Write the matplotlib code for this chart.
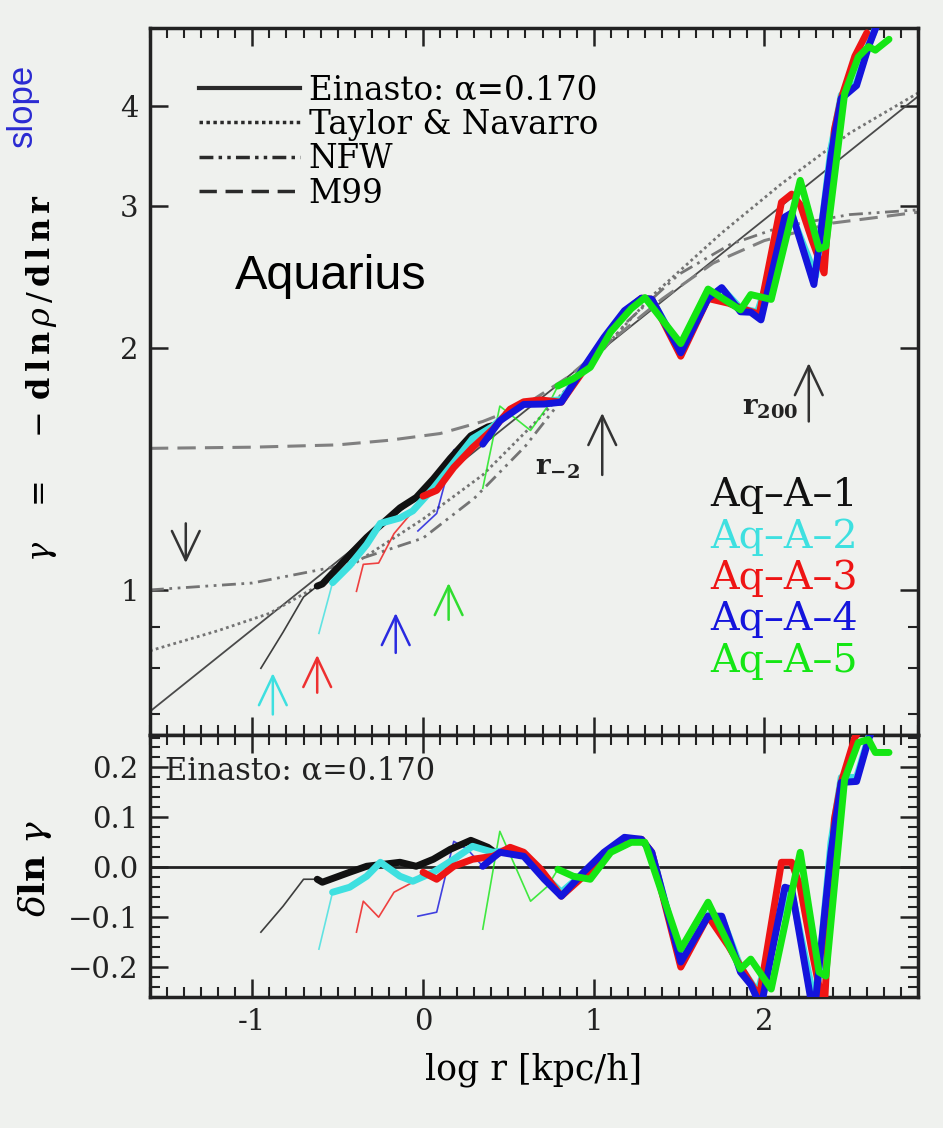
import numpy as np
import matplotlib
matplotlib.use("Agg")
import matplotlib.pyplot as plt
from matplotlib.lines import Line2D
from matplotlib.ticker import FixedLocator, NullFormatter, MultipleLocator

plt.rcParams['font.family'] = ['DejaVu Serif']
plt.rcParams['mathtext.fontset'] = 'dejavuserif'

# ---- model curves (log r, slope) ----
ein_r = [-1.6, -1.0, 0.0, 1.0, 2.0, 2.9]
ein_g = [0.706, 0.893, 1.321, 1.954, 2.889, 4.11]
tn_r = [-1.6, -1.2, -0.9, -0.5, 0.0, 0.35, 0.7, 1.06, 1.35, 1.75, 2.1, 2.5, 2.9]
tn_g = [0.84, 0.89, 0.935, 1.045, 1.225, 1.39, 1.65, 2.0, 2.33, 2.78, 3.2, 3.7, 4.15]
nfw_r = [-1.6, -1.0, -0.5, 0.0, 0.3, 0.6, 0.9, 1.2, 1.5, 1.8, 2.1, 2.5, 2.9]
nfw_g = [1.00, 1.02, 1.07, 1.16, 1.30, 1.51, 1.82, 2.16, 2.47, 2.69, 2.83, 2.93, 2.97]
m99_r = [-1.6, -1.0, -0.5, -0.2, 0.1, 0.35, 0.6, 0.85, 1.1, 1.4, 1.7, 2.0, 2.4, 2.9]
m99_g = [1.50, 1.505, 1.515, 1.535, 1.565, 1.62, 1.70, 1.84, 2.04, 2.30, 2.55, 2.72, 2.86, 2.95]

# ---- simulations: log r, slope, residual vs Einasto, convergence radius ----
aq1_r = [-0.95, -0.82, -0.70, -0.62, -0.59, -0.43, -0.33, -0.135, -0.04, 0.06, 0.16, 0.28, 0.38, 0.42]
aq1_g = [0.799, 0.886, 0.980, 1.011, 1.017, 1.105, 1.162, 1.265, 1.303, 1.374, 1.458, 1.555, 1.595, 1.603]
aq1_d = [-0.13, -0.078, -0.024, -0.024, -0.03, -0.01, 0.002, 0.01, 0.002, 0.016, 0.036, 0.054, 0.04, 0.03]
aq1_conv = -0.62

aq2_r = [-0.61, -0.53, -0.43, -0.33, -0.25, -0.135, -0.06, 0.06, 0.18, 0.29, 0.41, 0.51, 0.59, 0.69,
         0.81, 0.94, 1.06, 1.18, 1.28, 1.34, 1.51, 1.67, 1.75, 1.86, 1.96, 2.12, 2.16, 2.30, 2.39,
         2.45, 2.54, 2.61, 2.66]
aq2_g = [0.883, 1.021, 1.072, 1.139, 1.210, 1.229, 1.254, 1.338, 1.440, 1.542, 1.598, 1.670, 1.706,
         1.713, 1.725, 1.885, 2.050, 2.215, 2.304, 2.299, 1.982, 2.309, 2.372, 2.240, 2.216, 2.852,
         2.925, 2.457, 3.538, 4.125, 4.273, 4.759, 5.05]
aq2_d = [-0.164, -0.05, -0.04, -0.018, 0.01, -0.018, -0.028, -0.01, 0.016, 0.042, 0.03, 0.035, 0.025,
         -0.01, -0.05, -0.012, 0.025, 0.055, 0.055, 0.03, -0.185, -0.095, -0.10, -0.20, -0.25, -0.06,
         -0.05, -0.28, 0.05, 0.18, 0.18, 0.26, 0.30]
aq2_conv = -0.53

aq3_r = [-0.39, -0.35, -0.26, -0.17, -0.06, 0.0, 0.08, 0.18, 0.29, 0.41, 0.51, 0.59, 0.69, 0.81,
         0.94, 1.04, 1.18, 1.28, 1.34, 1.51, 1.67, 1.79, 1.88, 1.97, 2.10, 2.16, 2.21, 2.28, 2.35,
         2.41, 2.45, 2.53, 2.60]
aq3_g = [0.996, 1.076, 1.080, 1.175, 1.252, 1.308, 1.330, 1.420, 1.503, 1.585, 1.678, 1.714, 1.723,
         1.712, 1.874, 2.016, 2.217, 2.306, 2.299, 1.953, 2.304, 2.273, 2.235, 2.202, 3.035, 3.107,
         3.014, 2.720, 2.479, 3.735, 4.085, 4.612, 4.93]
aq3_d = [-0.13, -0.068, -0.10, -0.05, -0.03, -0.01, -0.024, 0.002, 0.016, 0.022, 0.04, 0.03, -0.004,
         -0.058, -0.018, 0.016, 0.056, 0.056, 0.03, -0.20, -0.098, -0.158, -0.21, -0.26, 0.01, 0.01,
         -0.04, -0.17, -0.29, 0.096, 0.17, 0.26, 0.30]
aq3_conv = 0.0

aq4_r = [-0.03, 0.08, 0.18, 0.26, 0.35, 0.45, 0.59, 0.71, 0.81, 0.94, 1.06, 1.18, 1.28, 1.34,
         1.51, 1.67, 1.75, 1.86, 1.92, 1.98, 2.12, 2.16, 2.29, 2.39, 2.45, 2.54, 2.61, 2.66]
aq4_g = [1.184, 1.245, 1.493, 1.516, 1.518, 1.623, 1.701, 1.703, 1.712, 1.889, 2.061, 2.225, 2.306,
         2.299, 1.972, 2.304, 2.377, 2.218, 2.215, 2.167, 2.910, 2.944, 2.398, 3.468, 4.085, 4.240,
         4.740, 5.05]
aq4_d = [-0.098, -0.09, 0.052, 0.036, 0.002, 0.03, 0.022, -0.024, -0.058, -0.01, 0.03, 0.06, 0.056,
         0.03, -0.19, -0.098, -0.098, -0.21, -0.235, -0.28, -0.04, -0.044, -0.30, 0.03, 0.17, 0.172,
         0.256, 0.30]
aq4_conv = 0.35

aq5_r = [0.35, 0.45, 0.63, 0.73, 0.79, 0.88, 0.98, 1.10, 1.22, 1.30, 1.51, 1.67, 1.86, 1.92, 2.04,
         2.21, 2.32, 2.36, 2.47, 2.55, 2.61, 2.65, 2.73]
aq5_g = [1.338, 1.693, 1.579, 1.692, 1.793, 1.831, 1.892, 2.094, 2.238, 2.310, 2.025, 2.367, 2.230,
         2.330, 2.298, 3.232, 2.655, 2.675, 4.141, 4.602, 4.740, 4.692, 4.841]
aq5_d = [-0.124, 0.072, -0.068, -0.038, -0.004, -0.018, -0.024, 0.03, 0.05, 0.05, -0.164, -0.07,
         -0.204, -0.184, -0.244, 0.03, -0.21, -0.218, 0.176, 0.25, 0.256, 0.23, 0.23]
aq5_conv = 0.79

sim_names = ['Aq\u2013A\u20131', 'Aq\u2013A\u20132', 'Aq\u2013A\u20133', 'Aq\u2013A\u20134', 'Aq\u2013A\u20135']
sim_colors = ['#111111', '#3ee0e0', '#ee1414', '#1414dc', '#14e614']

# arrows: log r, tail, tip (in slope units)
arrow_x = [-1.39, -0.88, -0.62, -0.16, 0.15]
arrow_tail = [1.21, 0.70, 0.745, 0.835, 0.918]
arrow_tip = [1.08, 0.788, 0.83, 0.936, 1.02]
arrow_colors = ['#333333', '#3ee0e0', '#ee3030', '#2a2ae0', '#30dd30']
rm2_x, rm2_tail, rm2_tip = 1.05, 1.39, 1.66
r200_x, r200_tail, r200_tip = 2.26, 1.62, 1.915

bg = '#eff1ee'
fig = plt.figure(figsize=(9.43, 11.28), dpi=100, facecolor=bg)
ax1 = fig.add_axes([0.159, 0.3484, 0.8145, 0.6268], facecolor=bg)
ax2 = fig.add_axes([0.159, 0.1161, 0.8145, 0.2323], facecolor=bg)

# model curves
ax1.plot(ein_r, ein_g, color='#4a4a4a', lw=1.3, ls='-')
ax1.plot(tn_r, tn_g, color='#747474', lw=2.0, ls=(0, (1, 1.2)))
ax1.plot(nfw_r, nfw_g, color='#747474', lw=2.0, ls=(0, (5, 2, 1, 2, 1, 2)))
ax1.plot(m99_r, m99_g, color='#808080', lw=2.2, ls=(0, (6, 3)))

sims = [(aq1_r, aq1_g, aq1_d, aq1_conv), (aq2_r, aq2_g, aq2_d, aq2_conv),
        (aq3_r, aq3_g, aq3_d, aq3_conv), (aq4_r, aq4_g, aq4_d, aq4_conv),
        (aq5_r, aq5_g, aq5_d, aq5_conv)]

for (r, g, d, conv), col in zip(sims, sim_colors):
    r = np.array(r)
    g = np.array(g)
    d = np.array(d)
    thin = r <= conv
    thick = r >= conv
    for ax, y in ((ax1, g), (ax2, d)):
        ax.plot(r[thin], y[thin], color=col, lw=1.2, alpha=0.8, zorder=3)
        ax.plot(r[thick], y[thick], color=col, lw=5.0, solid_joinstyle='round',
                solid_capstyle='round', zorder=4)

# arrows
aprops = dict(arrowstyle='->,head_length=0.42,head_width=0.2', lw=1.8,
              shrinkA=0, shrinkB=0, mutation_scale=50)
for x, t0, t1, c in zip(arrow_x, arrow_tail, arrow_tip, arrow_colors):
    ax1.annotate('', xy=(x, t1), xytext=(x, t0), arrowprops=dict(aprops, color=c), zorder=5)
ax1.annotate('', xy=(rm2_x, rm2_tip), xytext=(rm2_x, rm2_tail),
             arrowprops=dict(aprops, color='#333333'))
ax1.annotate('', xy=(r200_x, r200_tip), xytext=(r200_x, r200_tail),
             arrowprops=dict(aprops, color='#333333'))
ax1.text(0.79, 1.42, r'$\mathbf{r}_{\mathbf{-2}}$', fontsize=20, ha='center', va='center', color='#222222')
ax1.text(2.035, 1.685, r'$\mathbf{r}_{\mathbf{200}}$', fontsize=20, ha='center', va='center', color='#222222')

# legend of model curves
handles = [Line2D([], [], color='#2a2a2a', lw=3.0, ls='-'),
           Line2D([], [], color='#2a2a2a', lw=2.5, ls=(0, (1, 1))),
           Line2D([], [], color='#2a2a2a', lw=2.5, ls=(0, (4, 1.5, 1, 1.5, 1, 1.5))),
           Line2D([], [], color='#2a2a2a', lw=2.5, ls=(0, (5, 2.5)))]
labels = ['Einasto: \u03b1=0.170', 'Taylor & Navarro', 'NFW', 'M99']
ax1.legend(handles, labels, loc='upper left', bbox_to_anchor=(0.043, 0.958), frameon=False,
           fontsize=23.5, handlelength=3.1, handletextpad=0.25, labelspacing=0.08, borderpad=0)

# simulation names
name_y = [0.339, 0.280, 0.222, 0.163, 0.104]
for name, col, y in zip(sim_names, sim_colors, name_y):
    ax1.text(0.729, y, name, color=col, fontsize=28.5, ha='left', va='center', transform=ax1.transAxes)

ax1.text(0.235, 0.648, 'Aquarius', fontsize=35, family='Liberation Sans', ha='center', va='center',
         transform=ax1.transAxes)
fig.text(0.024, 0.907, 'slope', fontsize=25, family='Liberation Sans', color='#2a2ad2',
         rotation=90, ha='center', va='center')

ax2.axhline(0.0, color='#222222', lw=2.0, zorder=2)
ax2.text(0.02, 0.862, 'Einasto: \u03b1=0.170', fontsize=22, ha='left', va='center',
         transform=ax2.transAxes, color='#222222')

# axes
ax1.set_yscale('log')
for ax in (ax1, ax2):
    ax.set_xlim(-1.6, 2.9)
    ax.xaxis.set_major_locator(MultipleLocator(1))
    ax.xaxis.set_minor_locator(MultipleLocator(0.1))
    ax.tick_params(which='both', direction='in', top=True, right=True, colors='#222222',
                   labelsize=21, pad=8)
    ax.tick_params(which='major', length=13, width=1.8)
    ax.tick_params(which='minor', length=7, width=1.5)
    for s in ax.spines.values():
        s.set_linewidth(2.5)
        s.set_color('#222222')

ax1.set_ylim(0.66, 5.0)
ax1.yaxis.set_major_locator(FixedLocator([1, 2, 3, 4]))
ax1.yaxis.set_minor_locator(FixedLocator([0.7, 0.8, 0.9]))
ax1.yaxis.set_major_formatter(matplotlib.ticker.FixedFormatter(['1', '2', '3', '4']))
ax1.yaxis.set_minor_formatter(NullFormatter())
ax1.tick_params(labelbottom=False)

ax2.set_ylim(-0.26, 0.265)
ax2.yaxis.set_major_locator(FixedLocator([-0.2, -0.1, 0.0, 0.1, 0.2]))
ax2.yaxis.set_major_formatter(matplotlib.ticker.FixedFormatter(['\u22120.2', '\u22120.1', '0.0', '0.1', '0.2']))
ax2.yaxis.set_minor_locator(MultipleLocator(0.02))
ax2.set_xticks([-1, 0, 1, 2])
ax2.set_xticklabels(['-1', '0', '1', '2'])

ax1.set_ylabel(r'$\gamma\ \ \ =\ \ \ -\,\mathbf{d\,l\,n}\,\rho\,/\,\mathbf{d\,l\,n\,r}$', fontsize=23)
ax1.yaxis.set_label_coords(-0.118, 0.505)
ax2.set_ylabel(r'$\delta\mathbf{ln}\ \gamma$', fontsize=26)
ax2.yaxis.set_label_coords(-0.125, 0.49)
ax2.set_xlabel('log r [kpc/h]', fontsize=25, labelpad=12)

fig.savefig('out.png', dpi=100, facecolor=bg)
